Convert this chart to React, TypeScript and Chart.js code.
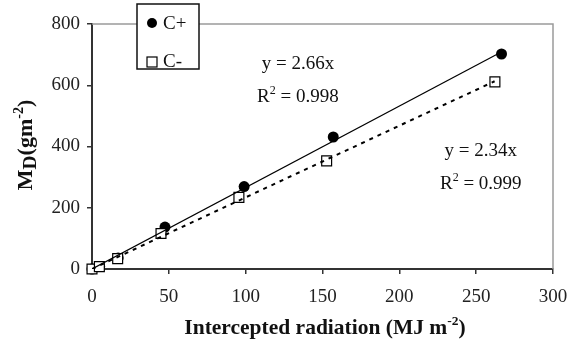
import React, { useEffect, useRef } from 'react';
import { Chart, registerables } from 'chart.js';

Chart.register(...registerables);

const seriesNames = ['C+', 'C-'];
const cPlusX = [0, 5, 17, 47.5, 99, 157, 266.5];
const cPlusY = [0, 8, 36, 137, 269, 431, 702];
const cMinusX = [0, 4.8, 16.7, 44.9, 95.6, 152.7, 262.2];
const cMinusY = [0, 7.6, 34, 116, 234, 353, 611];
const fitPlusX = [0, 267];
const fitPlusY = [0, 710];
const fitMinusX = [0, 262];
const fitMinusY = [0, 613];
const xTicks = [0, 50, 100, 150, 200, 250, 300];
const yTicks = [0, 200, 400, 600, 800];
const equations = ['y = 2.66x', 'y = 2.34x'];
const r2Values = ['0.998', '0.999'];

const FONT = '"Liberation Serif", "DejaVu Serif", serif';

const toPts = (xs: number[], ys: number[]) => xs.map((x, i) => ({ x, y: ys[i] }));

type Piece = { t: string; size: number; dy: number };

function drawPieces(ctx: CanvasRenderingContext2D, pieces: Piece[], cx: number, baseY: number, bold: boolean) {
  const w = pieces.map(p => {
    ctx.font = `${bold ? 'bold ' : ''}${p.size}px ${FONT}`;
    return ctx.measureText(p.t).width;
  });
  const total = w.reduce((a, b) => a + b, 0);
  let x = cx - total / 2;
  ctx.textAlign = 'left';
  ctx.textBaseline = 'alphabetic';
  pieces.forEach((p, i) => {
    ctx.font = `${bold ? 'bold ' : ''}${p.size}px ${FONT}`;
    ctx.fillText(p.t, x, baseY + p.dy);
    x += w[i];
  });
}

const decorPlugin = {
  id: 'decor',
  beforeDatasetsDraw(chart: any) {
    const { ctx, chartArea } = chart;
    ctx.save();
    ctx.strokeStyle = '#9a9a9a';
    ctx.lineWidth = 1.5;
    ctx.beginPath();
    ctx.moveTo(chartArea.left, chartArea.top);
    ctx.lineTo(chartArea.right, chartArea.top);
    ctx.lineTo(chartArea.right, chartArea.bottom);
    ctx.stroke();
    ctx.restore();
  },
  afterDraw(chart: any) {
    const { ctx } = chart;
    const xs = chart.scales.x;
    const ys = chart.scales.y;
    ctx.save();
    ctx.fillStyle = '#111';
    const ann = [
      { x: 134, y: 673, y2: 565 },
      { x: 253, y: 389, y2: 281 },
    ];
    ann.forEach((a, i) => {
      const px = xs.getPixelForValue(a.x);
      drawPieces(ctx, [{ t: equations[i], size: 19, dy: 0 }], px, ys.getPixelForValue(a.y) + 6, false);
      drawPieces(ctx, [
        { t: 'R', size: 19, dy: 0 },
        { t: '2', size: 12, dy: -8 },
        { t: ' = ' + r2Values[i], size: 19, dy: 0 },
      ], px, ys.getPixelForValue(a.y2) + 6, false);
    });
    drawPieces(ctx, [
      { t: 'Intercepted radiation (MJ m', size: 21.5, dy: 0 },
      { t: '-2', size: 13.5, dy: -9 },
      { t: ')', size: 21.5, dy: 0 },
    ], 325, 334, true);
    ctx.save();
    ctx.translate(32, 145);
    ctx.rotate(-Math.PI / 2);
    drawPieces(ctx, [
      { t: 'M', size: 22, dy: 0 },
      { t: 'D', size: 19.5, dy: 4 },
      { t: '(gm', size: 22, dy: 0 },
      { t: '-2', size: 14, dy: -9 },
      { t: ')', size: 22, dy: 0 },
    ], 0, 0, true);
    ctx.restore();
    ctx.fillStyle = '#fff';
    ctx.fillRect(137, 4, 62, 65);
    ctx.strokeStyle = '#111';
    ctx.lineWidth = 1.5;
    ctx.strokeRect(137, 4, 62, 65);
    ctx.fillStyle = '#000';
    ctx.beginPath();
    ctx.arc(152, 23, 5, 0, Math.PI * 2);
    ctx.fill();
    ctx.fillStyle = '#fff';
    ctx.fillRect(147, 57, 10, 10);
    ctx.strokeStyle = '#000';
    ctx.lineWidth = 1.2;
    ctx.strokeRect(147, 57, 10, 10);
    ctx.fillStyle = '#111';
    ctx.font = `19px ${FONT}`;
    ctx.textAlign = 'left';
    ctx.textBaseline = 'middle';
    ctx.fillText(seriesNames[0], 163, 24);
    ctx.fillText(seriesNames[1], 163, 62);
    ctx.restore();
  },
};

export default function App() {
  const ref = useRef<HTMLCanvasElement>(null);
  useEffect(() => {
    if (!ref.current) return;
    const axisColor = '#333';
    const tickFont = { family: FONT, size: 19 };
    const chart = new Chart(ref.current, {
      type: 'scatter',
      data: {
        datasets: [
          {
            label: 'fit ' + seriesNames[0],
            data: toPts(fitPlusX, fitPlusY),
            showLine: true,
            borderColor: '#000',
            borderWidth: 1.2,
            pointRadius: 0,
            order: 0,
          },
          {
            label: 'fit ' + seriesNames[1],
            data: toPts(fitMinusX, fitMinusY),
            showLine: true,
            borderColor: '#000',
            borderWidth: 2,
            borderDash: [4, 5],
            pointRadius: 0,
            order: 0,
          },
          {
            label: seriesNames[1],
            data: toPts(cMinusX, cMinusY),
            pointStyle: 'rect',
            pointRadius: 7,
            backgroundColor: '#fff',
            borderColor: '#000',
            borderWidth: 1.2,
            clip: false,
            order: 1,
          },
          {
            label: seriesNames[0],
            data: toPts(cPlusX, cPlusY),
            pointStyle: 'circle',
            pointRadius: 5.5,
            backgroundColor: '#000',
            borderColor: '#000',
            borderWidth: 0,
            clip: false,
            order: 2,
          },
        ],
      },
      options: {
        animation: false,
        responsive: false,
        layout: { padding: { top: 24, right: 27, left: 0, bottom: 0 } },
        plugins: { legend: { display: false }, tooltip: { enabled: false } },
        scales: {
          x: {
            type: 'linear',
            min: 0,
            max: 300,
            afterFit: (s: any) => { s.height = 70; },
            afterBuildTicks: (s: any) => { s.ticks = xTicks.map(v => ({ value: v })); },
            grid: { display: true, drawOnChartArea: false, drawTicks: true, tickLength: 5, color: axisColor, lineWidth: 1.5 },
            border: { display: true, color: axisColor, width: 2 },
            ticks: { font: tickFont, color: '#222', padding: 12, maxRotation: 0 },
          },
          y: {
            type: 'linear',
            min: 0,
            max: 800,
            afterFit: (s: any) => { s.width = 92; },
            afterBuildTicks: (s: any) => { s.ticks = yTicks.map(v => ({ value: v })); },
            grid: { display: true, drawOnChartArea: false, drawTicks: true, tickLength: 5, color: axisColor, lineWidth: 1.5 },
            border: { display: true, color: axisColor, width: 2 },
            ticks: { font: tickFont, color: '#222', padding: 7 },
          },
        },
      },
      plugins: [decorPlugin],
    });
    return () => chart.destroy();
  }, []);
  return (
    <div style={{ position: 'fixed', left: 0, top: 0, width: 580, height: 339, background: '#fff' }}>
      <canvas ref={ref} width={580} height={339} />
    </div>
  );
}
